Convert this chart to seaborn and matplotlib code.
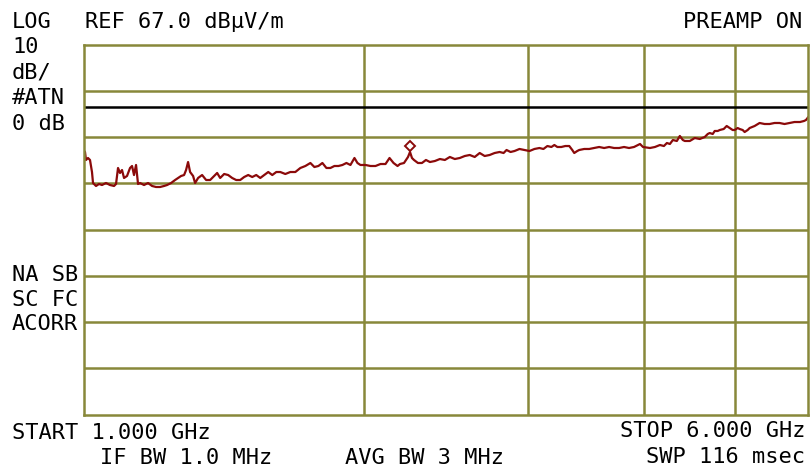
import matplotlib
matplotlib.use("Agg")
import matplotlib.pyplot as plt
import seaborn as sns
import pandas as pd

# spectrum analyser sweep, 1 - 6 GHz (log), level in dBuV/m
freq_ghz = [1.000, 1.0037, 1.0062, 1.0112, 1.0162, 1.0212, 1.0238, 1.0314, 1.0391, 1.0468,
            1.0572, 1.0677, 1.0784, 1.0837, 1.0891, 1.0945, 1.0999, 1.1054, 1.1136, 1.1219,
            1.1275, 1.1330, 1.1387, 1.1443, 1.1500, 1.1614, 1.1730, 1.1847, 1.1964, 1.2084,
            1.2204, 1.2295, 1.2417, 1.2541, 1.2634, 1.2728, 1.2823, 1.2886, 1.2950, 1.3015,
            1.3112, 1.3177, 1.3275, 1.3407, 1.3541, 1.3676, 1.3777, 1.3915, 1.4019, 1.4158,
            1.4299, 1.4442, 1.4586, 1.4731, 1.4877, 1.5026, 1.5175, 1.5327, 1.5480, 1.5634,
            1.5789, 1.5947, 1.6106, 1.6266, 1.6469, 1.6674, 1.6882, 1.7093, 1.7306, 1.7522,
            1.7696, 1.7872, 1.8050, 1.8230, 1.8411, 1.8594, 1.8780, 1.8966, 1.9155, 1.9346,
            1.9539, 1.9684, 1.9831, 2.0078, 2.0328, 2.0582, 2.0838, 2.1098, 2.1308, 2.1521,
            2.1735, 2.1867, 2.2085, 2.2305, 2.2415, 2.2525, 2.2636, 2.2860, 2.3087, 2.3316,
            2.3547, 2.3839, 2.4134, 2.4432, 2.4735, 2.5041, 2.5351, 2.5664, 2.5982, 2.6303,
            2.6629, 2.6959, 2.7293, 2.7631, 2.7974, 2.8249, 2.8458, 2.8739, 2.9024, 2.9383,
            2.9747, 3.0115, 3.0488, 3.0866, 3.1172, 3.1480, 3.1791, 3.2027, 3.2264, 3.2582,
            3.2905, 3.3230, 3.3477, 3.3642, 3.3891, 3.4058, 3.4480, 3.4907, 3.5339, 3.5777,
            3.6221, 3.6669, 3.7124, 3.7584, 3.8049, 3.8521, 3.8998, 3.9580, 3.9874, 4.0565,
            4.1068, 4.1577, 4.1989, 4.2300, 4.2613, 4.2929, 4.3353, 4.3675, 4.3999, 4.4216,
            4.4764, 4.5319, 4.5881, 4.6449, 4.6794, 4.7025, 4.7374, 4.7609, 4.7963, 4.8200,
            4.8677, 4.9039, 4.9403, 4.9771, 5.0016, 5.0388, 5.0637, 5.1014, 5.1266, 5.1647,
            5.1901, 5.2544, 5.3195, 5.3854, 5.4521, 5.5197, 5.5881, 5.6573, 5.7274, 5.7984,
            5.8780, 5.9362, 5.9657, 6.000]
level_db = [44.19, 43.76, 42.03, 42.46, 42.03, 39.43, 37.05, 36.41, 36.84, 36.62,
            37.05, 36.62, 36.41, 36.84, 40.30, 39.22, 39.86, 38.14, 38.57, 40.30,
            40.73, 38.78, 40.95, 36.84, 37.05, 36.62, 37.05, 36.41, 36.19, 36.19,
            36.41, 36.62, 37.05, 37.70, 38.14, 38.57, 38.78, 39.86, 41.59, 39.43,
            38.57, 37.05, 38.14, 38.78, 37.70, 37.70, 38.35, 39.22, 38.14, 39.00,
            38.78, 38.14, 37.70, 37.70, 38.35, 38.78, 38.35, 38.78, 38.14, 38.78,
            39.43, 38.78, 39.43, 39.43, 39.00, 39.43, 39.43, 40.30, 40.73, 41.38,
            40.51, 40.73, 41.38, 40.30, 40.30, 40.73, 40.73, 40.95, 41.38, 40.95,
            42.46, 41.38, 40.95, 40.95, 40.73, 40.73, 41.16, 41.16, 42.46, 41.38,
            40.73, 41.16, 41.38, 42.68, 43.76, 42.46, 42.03, 41.38, 41.38, 42.03,
            41.59, 41.81, 42.24, 42.03, 42.68, 42.24, 42.46, 42.89, 43.11, 42.68,
            43.54, 42.89, 43.11, 43.54, 43.76, 43.54, 44.19, 43.76, 43.97, 44.41,
            44.19, 43.97, 44.41, 44.62, 44.41, 45.05, 44.84, 45.27, 44.84, 44.84,
            45.05, 45.05, 44.19, 43.54, 43.97, 44.19, 44.41, 44.41, 44.62, 44.84,
            44.62, 44.84, 44.62, 44.62, 44.84, 44.62, 44.84, 45.49, 44.84, 44.62,
            44.84, 45.27, 45.05, 45.70, 45.49, 46.35, 46.14, 47.22, 46.35, 46.14,
            46.14, 46.78, 46.57, 47.00, 47.65, 47.86, 47.65, 48.30, 48.30, 48.51,
            48.73, 49.38, 48.94, 48.51, 48.51, 48.94, 48.73, 48.51, 48.08, 48.51,
            48.94, 49.38, 50.03, 49.81, 49.81, 50.03, 50.03, 49.81, 50.03, 50.24,
            50.24, 50.46, 50.67, 51.32]

marker_freq = [2.2415]
marker_db = [45.05]

ref_level = 67.0
db_per_div = 10
display_line = 53.5
freq_grid = [2, 3, 4, 5]

grid_col = "#88883a"
trace_col = "#8b0a0a"

sns.set_style("white")
plt.rcParams["font.family"] = ["DejaVu Sans Mono"]

fig = plt.figure(figsize=(8.10, 4.71), dpi=100)
ax = fig.add_axes([83.5 / 810, 1 - 414.5 / 471, 724.8 / 810, 370 / 471])

df = pd.DataFrame({"f": freq_ghz, "lvl": level_db})
sns.lineplot(data=df, x="f", y="lvl", ax=ax, color=trace_col, linewidth=1.6,
             estimator=None, sort=False)
ax.plot(marker_freq, marker_db, marker="D", markersize=5.5, markerfacecolor="none",
        markeredgecolor=trace_col, markeredgewidth=1.4, linestyle="none")

ax.set_xscale("log")
ax.set_xlim(1, 6)
ax.set_ylim(ref_level - 8 * db_per_div, ref_level)

for g in freq_grid:
    ax.axvline(g, color=grid_col, lw=1.8, zorder=0)
for k in range(1, 8):
    ax.axhline(ref_level - k * db_per_div, color=grid_col, lw=1.8, zorder=0)
ax.axhline(display_line, color="black", lw=1.8, zorder=1)

ax.set_xticks([])
ax.set_yticks([])
ax.minorticks_off()
ax.set_xlabel("")
ax.set_ylabel("")
for s in ax.spines.values():
    s.set_color(grid_col)
    s.set_linewidth(1.8)

fs = 15.8


def txt(x, y, s, ha="left"):
    fig.text(x / 810, 1 - y / 471, s, ha=ha, va="baseline", fontsize=fs, color="black")


txt(12, 28, "LOG")
txt(85, 28, "REF 67.0 dBµV/m")
txt(802, 28, "PREAMP ON", ha="right")
txt(12, 53, "10")
txt(12, 78, "dB/")
txt(12, 104, "#ATN")
txt(12, 130, "0 dB")
txt(12, 281, "NA SB")
txt(12, 306, "SC FC")
txt(12, 330, "ACORR")
txt(12, 439, "START 1.000 GHz")
txt(100, 464, "IF BW 1.0 MHz")
txt(345, 464, "AVG BW 3 MHz")
txt(805, 437, "STOP 6.000 GHz", ha="right")
txt(805, 463, "SWP 116 msec", ha="right")

fig.savefig("out.png", dpi=100)
